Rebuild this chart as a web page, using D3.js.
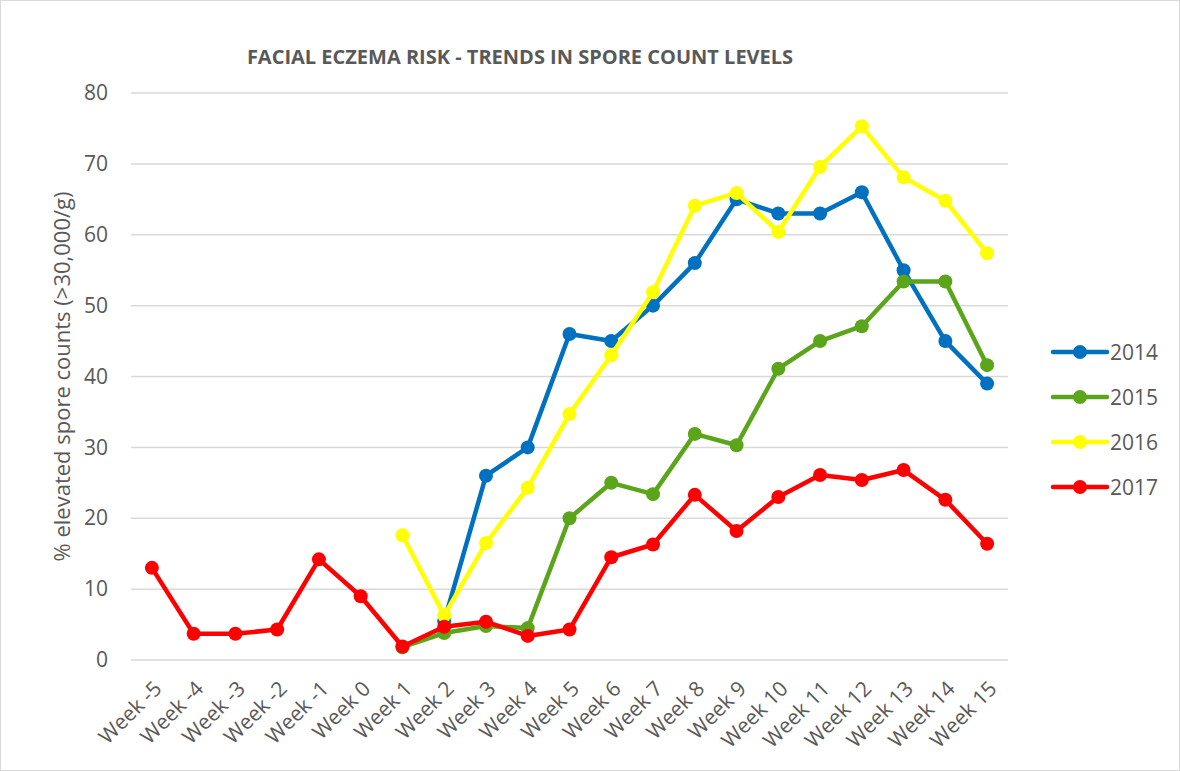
<!DOCTYPE html>
<html>
<head>
<meta charset="utf-8">
<script src="https://cdn.jsdelivr.net/npm/d3@7"></script>
<style>
  body { margin: 0; background: #fff; }
  text { font-family: "Open Sans", "Noto Sans", sans-serif; fill: #595959; }
</style>
</head>
<body>
<div id="chart"></div>
<script>
var width = 1180;
var height = 771;

// week categories on the x axis
var weeks = ["Week -5","Week -4","Week -3","Week -2","Week -1","Week 0","Week 1","Week 2","Week 3","Week 4",
             "Week 5","Week 6","Week 7","Week 8","Week 9","Week 10","Week 11","Week 12","Week 13","Week 14","Week 15"];
var yTicks = [0,10,20,30,40,50,60,70,80];

// series values (null = no reading)
var s2014 = [null,null,null,null,null,null,null,5.5,26,30,46,45,50,56,65,63,63,66,55,45,39];
var s2015 = [null,null,null,null,null,null,1.8,3.8,4.8,4.5,20,25,23.4,31.9,30.3,41.1,45,47.1,53.4,53.4,41.6];
var s2016 = [null,null,null,null,null,null,17.6,6.3,16.5,24.3,34.7,43,51.9,64.1,65.9,60.4,69.6,75.3,68.1,64.8,57.4];
var s2017 = [13,3.7,3.7,4.3,14.2,9,1.9,4.7,5.4,3.4,4.3,14.5,16.3,23.3,18.2,23,26.1,25.4,26.8,22.6,16.4];

var seriesNames = ["2014","2015","2016","2017"];
var seriesColors = ["#0070C0","#5BA51B","#FFFF00","#FF0000"];
var allSeries = [s2014, s2015, s2016, s2017];

var margin = {left: 131, right: 172, top: 93, bottom: 111};

var svg = d3.select("#chart")
    .append("svg")
    .attr("width", width)
    .attr("height", height);

// outer frame
svg.append("rect")
    .attr("x", 0.5).attr("y", 0.5)
    .attr("width", width - 1).attr("height", height - 1)
    .attr("fill", "#fff")
    .attr("stroke", "#d9d9d9");

var x = d3.scaleBand()
    .domain(weeks)
    .range([margin.left, width - margin.right]);

var y = d3.scaleLinear()
    .domain([0, 80])
    .range([height - margin.bottom, margin.top]);

// gridlines
svg.append("g")
    .selectAll("line")
    .data(yTicks)
    .enter()
        .append("line")
        .attr("x1", margin.left)
        .attr("x2", width - margin.right)
        .attr("y1", function(d){ return y(d); })
        .attr("y2", function(d){ return y(d); })
        .attr("stroke", "#d9d9d9")
        .attr("stroke-width", 1.5);

// y axis labels
var yAxis = d3.axisLeft(y).tickValues(yTicks).tickSize(0).tickPadding(0);
var yg = svg.append("g")
    .attr("transform", "translate(" + (margin.left - 23) + ",0)")
    .call(yAxis);
yg.select(".domain").remove();
yg.selectAll("text")
    .attr("font-size", "21px")
    .attr("fill", "#595959")
    .attr("font-family", "'Open Sans', sans-serif");

// x axis labels, rotated
var xAxis = d3.axisBottom(x).tickSize(0).tickPadding(0);
var xg = svg.append("g")
    .attr("transform", "translate(0," + (height - margin.bottom) + ")")
    .call(xAxis);
xg.select(".domain").remove();
xg.selectAll("text")
    .attr("font-size", "21px")
    .attr("fill", "#595959")
    .attr("font-family", "'Open Sans', sans-serif")
    .attr("text-anchor", "end")
    .attr("dy", 0)
    .attr("transform", "translate(11,30) rotate(-45)");

// title
svg.append("text")
    .attr("x", 520)
    .attr("y", 64)
    .attr("text-anchor", "middle")
    .attr("font-size", "20px")
    .attr("font-weight", "bold")
    .text("FACIAL ECZEMA RISK - TRENDS IN SPORE COUNT LEVELS");

// y axis title
svg.append("text")
    .attr("transform", "translate(70," + ((margin.top + height - margin.bottom) / 2) + ") rotate(-90)")
    .attr("text-anchor", "middle")
    .attr("font-size", "22px")
    .text("% elevated spore counts (>30,000/g)");

var line = d3.line()
    .defined(function(d){ return d !== null; })
    .x(function(d, i){ return x(weeks[i]) + x.bandwidth() / 2; })
    .y(function(d){ return y(d); });

// draw the series
allSeries.forEach(function(vals, k){
    var g = svg.append("g").attr("class", "series");
    g.append("path")
        .datum(vals)
        .attr("d", line)
        .attr("fill", "none")
        .attr("stroke", seriesColors[k])
        .attr("stroke-width", 4.5)
        .attr("stroke-linejoin", "round")
        .attr("stroke-linecap", "round");
    g.selectAll("circle")
        .data(vals.map(function(v, i){ return {v: v, i: i}; }).filter(function(d){ return d.v !== null; }))
        .enter()
            .append("circle")
            .attr("cx", function(d){ return x(weeks[d.i]) + x.bandwidth() / 2; })
            .attr("cy", function(d){ return y(d.v); })
            .attr("r", 7)
            .attr("fill", seriesColors[k]);
});

// legend
var legend = svg.append("g")
    .attr("transform", "translate(1053,352)");
var items = legend.selectAll("g")
    .data(seriesNames)
    .enter()
        .append("g")
        .attr("transform", function(d, i){ return "translate(0," + (i * 45) + ")"; });
items.append("line")
    .attr("x1", 0).attr("x2", 54)
    .attr("stroke", function(d, i){ return seriesColors[i]; })
    .attr("stroke-width", 4.5)
    .attr("stroke-linecap", "round");
items.append("circle")
    .attr("cx", 27)
    .attr("r", 7)
    .attr("fill", function(d, i){ return seriesColors[i]; });
items.append("text")
    .attr("x", 57)
    .attr("y", 7.5)
    .attr("font-size", "21px")
    .text(function(d){ return d; });
</script>
</body>
</html>
